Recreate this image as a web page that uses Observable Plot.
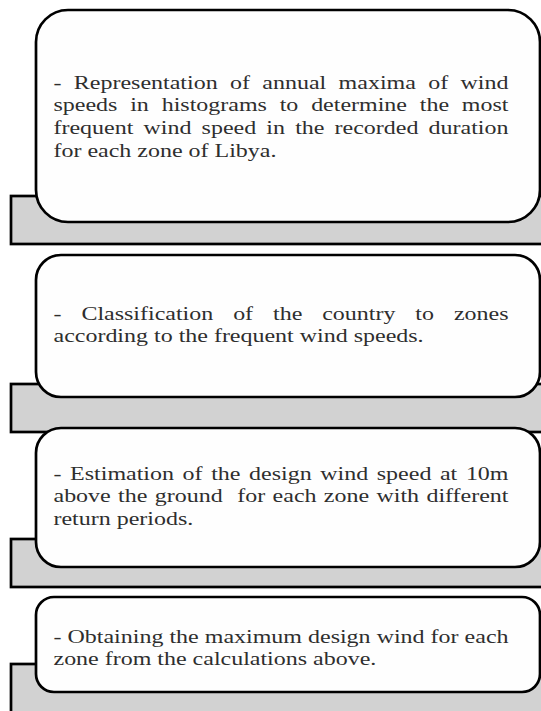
<!DOCTYPE html>
<html>
<head>
<meta charset="utf-8">
<script src="https://cdn.jsdelivr.net/npm/d3@7"></script>
<script src="https://cdn.jsdelivr.net/npm/@observablehq/plot@0.6"></script>
<style>
  html, body { margin: 0; padding: 0; background: #ffffff; overflow: hidden; }
  #chart svg { display: block; }
</style>
</head>
<body>
<div id="chart"></div>
<script>
// ---- Diagram content (text of each step, one entry per printed line) ----
const stepLines = [
  ["- Representation of annual maxima of wind",
   "speeds in histograms to determine the most",
   "frequent wind speed in the recorded duration",
   "for each zone of Libya."],
  ["- Classification of the country to zones",
   "according to the frequent wind speeds."],
  ["- Estimation of the design wind speed at 10m",
   "above the ground  for each zone with different",
   "return periods."],
  ["- Obtaining the maximum design wind for each",
   "zone from the calculations above."]
];

// ---- Box extents (pixel units of the 541x711 canvas) ----
const boxTop      = [10, 255, 428, 597];
const boxBottom   = [222, 397, 567, 692];
const shelfTop    = [196, 384, 539, 664];
const shelfBottom = [244, 432, 587, 740];
const firstBaseline = [88, 319, 479, 642];

// ---- Layout / style settings ----
const W = 541, H = 711;
const boxLeft = 36, boxRight = 540, shelfLeft = 11, shelfRight = 620;
const boxRadius = [32, 25, 25, 18];
const textLeft = 53, textRight = 508, linePitch = 22.7;
const fontSize = 19.5, stretchX = 1.23;

const rows = [];
stepLines.forEach((lines, i) => {
  lines.forEach((line, j) => {
    rows.push({
      text: line,
      x: textLeft,
      y: firstBaseline[i] + j * linePitch,
      justify: j < lines.length - 1
    });
  });
});

const marks = [];
stepLines.forEach((_, i) => {
  marks.push(Plot.rect([i], {
    x1: shelfLeft, x2: shelfRight,
    y1: () => shelfTop[i], y2: () => shelfBottom[i],
    fill: "#d2d2d2", stroke: "#000", strokeWidth: 2.7
  }));
  marks.push(Plot.rect([i], {
    x1: boxLeft, x2: boxRight,
    y1: () => boxTop[i], y2: () => boxBottom[i],
    rx: boxRadius[i],
    fill: "#fefefe", stroke: "#000", strokeWidth: 2.7
  }));
});
marks.push(Plot.text(rows, {
  x: "x", y: "y", text: "text",
  textAnchor: "start", lineAnchor: "bottom",
  fill: "#2e2e2e",
  fontSize: fontSize,
  fontFamily: "'Liberation Serif', 'Times New Roman', serif"
}));

const svg = Plot.plot({
  width: W, height: H,
  margin: 0,
  x: {domain: [0, W], range: [0, W], axis: null},
  y: {domain: [0, H], range: [0, H], axis: null},
  style: {background: "#ffffff"},
  marks
});
document.getElementById("chart").append(svg);

// Horizontal stretch of glyphs and full justification of non-final lines
const texts = svg.querySelectorAll('g[aria-label="text"] text');
texts.forEach((t, i) => {
  const row = rows[i];
  let tr = t.getAttribute("transform") || "";
  const ax = t.getAttribute("x"), ay = t.getAttribute("y");
  if (ax !== null || ay !== null) {
    tr += ` translate(${+ax || 0},${+ay || 0})`;
    t.removeAttribute("x"); t.removeAttribute("y");
  }
  t.setAttribute("transform", tr + ` scale(${stretchX},1)`);
  if (row && row.justify) {
    const natural = t.getComputedTextLength();
    const target = (textRight - textLeft) / stretchX;
    const spaces = (row.text.match(/ /g) || []).length;
    if (spaces > 0) t.style.wordSpacing = ((target - natural) / spaces) + "px";
  }
});
</script>
</body>
</html>
